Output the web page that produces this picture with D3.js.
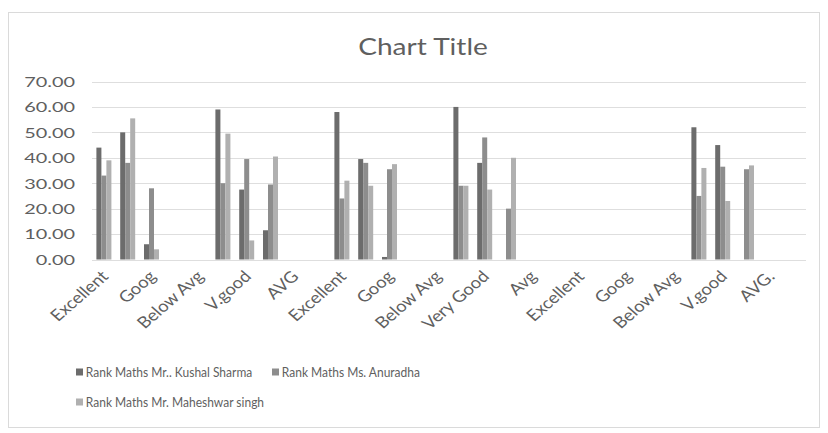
<!DOCTYPE html>
<html>
<head>
<meta charset="utf-8">
<script src="https://cdn.jsdelivr.net/npm/d3@7/dist/d3.min.js"></script>
<style>
  html, body { margin: 0; padding: 0; background: #ffffff; }
  svg { display: block; font-family: Lato, "Open Sans", sans-serif; }
</style>
</head>
<body>
<svg id="chart" width="828" height="433"></svg>
<script>
// ---- Data ----
const categories = ["Excellent", "", "Goog", "", "Below Avg", "", "V.good", "", "AVG", "",
                    "Excellent", "", "Goog", "", "Below Avg", "", "Very Good", "", "Avg", "",
                    "Excellent", "", "Goog", "", "Below Avg", "", "V.good", "", "AVG.", ""];
const seriesNames = ["Rank Maths Mr.. Kushal Sharma", "Rank Maths Ms. Anuradha", "Rank Maths Mr. Maheshwar singh"];
const kushal    = [44, 50, 6, null, null, 59, 27.5, 11.5, null, null, 58, 39.5, 1, null, null, 60, 38, null, null, null, null, null, null, null, null, 52, 45, null, null, null];
const anuradha  = [33, 38, 28, null, null, 30, 39.5, 29.5, null, null, 24, 38, 35.5, null, null, 29, 48, 20, null, null, null, null, null, null, null, 25, 36.5, 35.5, null, null];
const maheshwar = [39, 55.5, 4, null, null, 49.5, 7.5, 40.5, null, null, 31, 29, 37.5, null, null, 29, 27.5, 40, null, null, null, null, null, null, null, 36, 23, 37, null, null];
const yTicks = [0, 10, 20, 30, 40, 50, 60, 70];
const chartTitle = "Chart Title";

// ---- Styles / layout ----
const colors = ["#6c6c6c", "#8d8d8d", "#b0b0b0"];
const textColor = "#5f5f5f";
const plot = { left: 92, right: 806, top: 81.5, bottom: 259.5 };

const svg = d3.select("#chart");

// outer chart border
svg.append("rect")
  .attr("x", 8.5).attr("y", 12.5).attr("width", 811).attr("height", 415)
  .attr("fill", "#ffffff").attr("stroke", "#dadada").attr("stroke-width", 1);

const series = [kushal, anuradha, maheshwar];
const idx = d3.range(categories.length);

const x = d3.scaleBand().domain(idx).range([plot.left, plot.right]).paddingInner(0.37).paddingOuter(0.185);
const xs = d3.scaleBand().domain(d3.range(series.length)).range([0, x.bandwidth()]);
const y = d3.scaleLinear().domain([0, 70]).range([plot.bottom, plot.top]);

// gridlines
svg.append("g").selectAll("line").data(yTicks).join("line")
  .attr("x1", plot.left).attr("x2", plot.right)
  .attr("y1", d => Math.round(y(d)) + 0.5).attr("y2", d => Math.round(y(d)) + 0.5)
  .attr("stroke", "#dedede").attr("stroke-width", 1);

// y axis labels (no line)
const yAxis = d3.axisLeft(y).tickValues(yTicks).tickFormat(d3.format(".2f")).tickSize(0).tickPadding(0);
const yg = svg.append("g").attr("transform", `translate(${plot.left - 17},0)`).call(yAxis);
yg.select(".domain").remove();
yg.selectAll("text")
  .attr("fill", textColor).attr("font-size", 14).attr("font-family", "Lato, sans-serif")
  .attr("x", 0).attr("dy", "0.35em")
  .attr("transform", "scale(1.42,1)");

// bars
const groups = svg.append("g").selectAll("g").data(series).join("g")
  .attr("fill", (d, i) => colors[i]);
groups.each(function (vals, si) {
  d3.select(this).selectAll("rect")
    .data(idx.filter(i => vals[i] != null && vals[i] > 0))
    .join("rect")
    .attr("x", i => x(i) + xs(si))
    .attr("width", xs.bandwidth())
    .attr("y", i => y(vals[i]))
    .attr("height", i => y(0) - y(vals[i]));
});

// x axis labels (Excel shows every other label)
const xAxis = d3.axisBottom(x).tickValues(idx.filter(i => categories[i] !== ""))
  .tickFormat(i => categories[i]).tickSize(0).tickPadding(0);
const xg = svg.append("g").attr("transform", `translate(0,${plot.bottom + 14})`).call(xAxis);
xg.select(".domain").remove();
xg.selectAll("text")
  .attr("fill", textColor).attr("font-size", 16).attr("font-family", "Lato, sans-serif")
  .attr("text-anchor", "end").attr("dy", "0.35em").attr("y", 0).attr("x", 0)
  .attr("transform", "translate(1,0) scale(1.15,1) rotate(-45)");

// title
svg.append("text")
  .attr("x", 0).attr("y", 0)
  .attr("text-anchor", "middle")
  .attr("fill", textColor).attr("font-size", 24).attr("font-family", "Lato, sans-serif")
  .attr("transform", "translate(423,55) scale(1.17,1)")
  .text(chartTitle);

// legend
const legendPos = [[76, 372], [272, 372], [76, 402]];
const lg = svg.append("g").selectAll("g").data(seriesNames).join("g")
  .attr("transform", (d, i) => `translate(${legendPos[i][0]},${legendPos[i][1]})`);
lg.append("rect").attr("x", 0).attr("y", -3.5).attr("width", 7).attr("height", 7)
  .attr("fill", (d, i) => colors[i]);
lg.append("text").attr("x", 11).attr("y", 0).attr("dy", "0.35em")
  .attr("fill", textColor).attr("font-size", 13.5).attr("font-family", "Lato, sans-serif")
  .attr("transform", "scale(0.89,1)")
  .text(d => d);
</script>
</body>
</html>
